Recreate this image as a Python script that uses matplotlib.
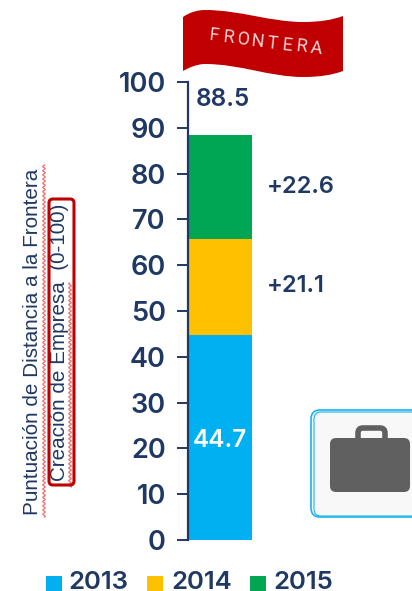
import numpy as np
import matplotlib
matplotlib.use('Agg')
import matplotlib.pyplot as plt
from matplotlib.patches import FancyBboxPatch, PathPatch, Rectangle
from matplotlib.path import Path

years = ['2013', '2014', '2015']
values = [44.7, 21.1, 22.6]
colors = ['#00b0f0', '#ffc000', '#00a651']
segment_labels = ['44.7', '+21.1', '+22.6']
total_label = '88.5'
yticks = [0, 10, 20, 30, 40, 50, 60, 70, 80, 90, 100]

W, H = 412, 591
navy = '#1f3864'
red = '#c00000'
plt.rcParams['font.family'] = ['Inter', 'DejaVu Sans']

fig = plt.figure(figsize=(W / 100, H / 100), dpi=100)

# overlay in pixel coords for the flag, icon and red marks
bg = fig.add_axes([0, 0, 1, 1])
bg.set_xlim(0, W)
bg.set_ylim(H, 0)
bg.axis('off')

# main bar axis: 0 at y=540, 100 at y=82
ax = fig.add_axes([188 / W, (H - 540) / H, 64 / W, (540 - 82) / H])
ax.patch.set_alpha(0)
bottom = 0
for year, v, c in zip(years, values, colors):
    ax.bar(0, v, width=1, bottom=bottom, color=c, label=year)
    bottom += v
ax.set_xlim(-0.5, 0.5)
ax.set_ylim(0, 100)
ax.set_xticks([])
ax.set_yticks(yticks)
ax.tick_params(axis='y', length=8, width=1.4, color=navy, labelcolor=navy, labelsize=19.5, pad=8)
for s in ['top', 'right', 'bottom']:
    ax.spines[s].set_visible(False)
ax.spines['left'].set_color(navy)
ax.spines['left'].set_linewidth(1.6)
for t in ax.get_yticklabels():
    t.set_fontweight('semibold')

ax.text(0, values[0] / 2 - 0.6, segment_labels[0], color='white', fontsize=17.5, fontweight='semibold',
        ha='center', va='center')
ax.text(0.73, values[0] + values[1] / 2 + 0.1, segment_labels[1], color=navy, fontsize=17,
        fontweight='semibold', ha='left', va='center')
ax.text(0.73, values[0] + values[1] + values[2] / 2 - 0.1, segment_labels[2], color=navy, fontsize=17,
        fontweight='semibold', ha='left', va='center')
ax.text(0.04, 96.2, total_label, color=navy, fontsize=17.5, fontweight='semibold', ha='center', va='center')

# flag
flag_verts = [(183, 17), (190, 12), (198, 10), (205, 10), (240, 10), (270, 22), (303, 22),
              (320, 22), (332, 20), (343, 16), (343, 71), (332, 75), (320, 77), (303, 77),
              (270, 77), (240, 64), (205, 64), (198, 64), (190, 67), (183, 71), (183, 17)]
flag_codes = [Path.MOVETO] + [Path.CURVE4] * 9 + [Path.LINETO] + [Path.CURVE4] * 9 + [Path.CLOSEPOLY]
bg.add_patch(PathPatch(Path(flag_verts, flag_codes), fc=red, ec='none'))
for i, ch in enumerate('FRONTERA'):
    bg.text(214 + i * 14.6, 36 + i * 1.85, ch, color='#f6d5d5', fontsize=13, family=['Roboto'],
            rotation=-6, ha='center', va='center')

# y-axis title, two lines with red squiggles
bg.text(33, 342, 'Puntuación de Distancia a la Frontera', color=navy, fontsize=14.9, rotation=90,
        ha='center', va='center', family=['Liberation Sans'])
bg.text(60, 342, 'Creación de Empresa  (0-100)', color=navy, fontsize=14.9, rotation=90,
        ha='center', va='center', family=['Liberation Sans'])
sy = np.linspace(165, 517, 500)
bg.plot(44 + 1.3 * np.sin(sy * 1.5), sy, color='#f07070', lw=0.9)
sy = np.linspace(283, 487, 300)
bg.plot(70 + 1.3 * np.sin(sy * 1.5), sy, color='#f07070', lw=0.9)
bg.add_patch(FancyBboxPatch((49, 199), 25, 286, boxstyle='round,pad=0,rounding_size=4',
                            fc='none', ec=red, lw=2.2, zorder=5))

# briefcase card, runs off the right edge
bg.add_patch(FancyBboxPatch((311, 410), 110, 107, boxstyle='round,pad=0,rounding_size=9',
                            fc='#f8f8f8', ec='#18b4ee', lw=1.2))
bg.add_patch(FancyBboxPatch((314, 412), 110, 104, boxstyle='round,pad=0,rounding_size=7',
                            fc='none', ec='#18b4ee', lw=0.8))
bg.add_patch(FancyBboxPatch((358, 428), 27, 20, boxstyle='round,pad=0,rounding_size=5',
                            fc='none', ec='#606060', lw=4))
bg.add_patch(FancyBboxPatch((330, 438), 80, 54, boxstyle='round,pad=0,rounding_size=6',
                            fc='#606060', ec='none', zorder=3))

# legend drawn by hand to sit at the exact spots
for year, c, sx, tx in zip(years, colors, [46, 147, 250], [68, 171, 273]):
    bg.add_patch(Rectangle((sx, 576), 16, 15, color=c, lw=0))
    bg.text(tx, 589, year, color=navy, fontsize=18.5, fontweight='semibold', ha='left', va='baseline')

fig.savefig('out.png', dpi=100)
